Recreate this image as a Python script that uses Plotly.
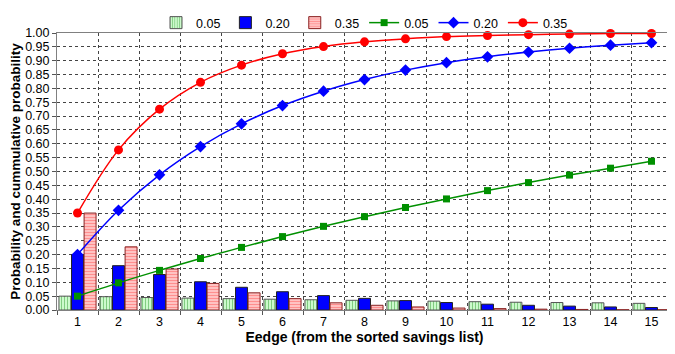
import plotly.graph_objects as go

edges = [str(i) for i in range(1, 16)]
series_names = ["0.05", "0.20", "0.35"]

prob_005 = [0.050, 0.048, 0.045, 0.043, 0.041, 0.039, 0.037, 0.035, 0.033, 0.032, 0.030, 0.028, 0.027, 0.026, 0.024]
prob_020 = [0.200, 0.160, 0.128, 0.102, 0.082, 0.066, 0.052, 0.042, 0.034, 0.027, 0.021, 0.017, 0.014, 0.011, 0.009]
prob_035 = [0.350, 0.228, 0.148, 0.096, 0.062, 0.041, 0.026, 0.017, 0.011, 0.007, 0.005, 0.003, 0.002, 0.001, 0.001]

cum_005 = [0.050, 0.098, 0.143, 0.186, 0.226, 0.265, 0.302, 0.337, 0.370, 0.401, 0.431, 0.460, 0.487, 0.512, 0.537]
cum_020 = [0.200, 0.360, 0.488, 0.590, 0.672, 0.738, 0.790, 0.832, 0.866, 0.893, 0.914, 0.931, 0.945, 0.956, 0.965]
cum_035 = [0.350, 0.578, 0.725, 0.822, 0.884, 0.925, 0.951, 0.968, 0.979, 0.987, 0.991, 0.994, 0.996, 0.998, 0.998]

font = "Liberation Sans, Arial, sans-serif"
fig = go.Figure()

fig.add_trace(go.Bar(x=edges, y=prob_005, name=series_names[0],
                     marker=dict(color="#ccffcc", line=dict(color="#555555", width=1),
                                 pattern=dict(shape="|", fgcolor="#2e9a2e", bgcolor="#d4ffd4", size=3, solidity=0.4))))
fig.add_trace(go.Bar(x=edges, y=prob_020, name=series_names[1],
                     marker=dict(color="#0000ff", line=dict(color="#222222", width=1))))
fig.add_trace(go.Bar(x=edges, y=prob_035, name=series_names[2],
                     marker=dict(color="#ffffff", line=dict(color="#882222", width=1),
                                 pattern=dict(shape="-", fgcolor="#ff2020", bgcolor="#ffffff", size=3, solidity=0.7))))

fig.add_trace(go.Scatter(x=edges, y=cum_005, name=series_names[0], mode="lines+markers",
                         line=dict(color="#009000", width=1.5, shape="spline"),
                         marker=dict(symbol="square", size=7, color="#009000"), cliponaxis=False))
fig.add_trace(go.Scatter(x=edges, y=cum_020, name=series_names[1], mode="lines+markers",
                         line=dict(color="#0000ff", width=1.5, shape="spline"),
                         marker=dict(symbol="diamond", size=9, color="#0000ff"), cliponaxis=False))
fig.add_trace(go.Scatter(x=edges, y=cum_035, name=series_names[2], mode="lines+markers",
                         line=dict(color="#ff0000", width=1.5, shape="spline"),
                         marker=dict(symbol="circle", size=9, color="#ff0000"), cliponaxis=False))

fig.update_layout(
    width=667, height=346,
    margin=dict(l=49, r=3, t=25, b=44, autoexpand=False),
    paper_bgcolor="white", plot_bgcolor="white",
    font=dict(family=font, size=12.5, color="#000000"),
    barmode="group", bargap=0.08, bargroupgap=0.05,
    showlegend=True,
    legend=dict(orientation="h", x=0.5, xanchor="center", yref="container", y=1.0, yanchor="top",
                font=dict(size=12.5), itemwidth=30, traceorder="normal",
                bgcolor="rgba(0,0,0,0)"),
    xaxis=dict(type="category", range=[-0.5, 14.5], autorange=False,
               tickson="boundaries", ticks="outside", ticklen=4,
               tickcolor="#555555", showgrid=True, gridcolor="#444444", griddash="dot",
               gridwidth=1, showline=True, linecolor="#808080", mirror=True,
               title=dict(text="<b>Eedge (from the sorted savings list)</b>", font=dict(size=14), standoff=2)),
    yaxis=dict(range=[0, 1.0], autorange=False, dtick=0.05, tickformat=".2f", ticks="outside", ticklen=4,
               tickcolor="#555555", showgrid=True, gridcolor="#444444", griddash="dot",
               gridwidth=1, showline=True, linecolor="#808080", mirror=True, zeroline=False,
               title=dict(text="<b>Probability and cummulative probability</b>", font=dict(size=13.5), standoff=4)),
)

fig.write_html("out.html")
